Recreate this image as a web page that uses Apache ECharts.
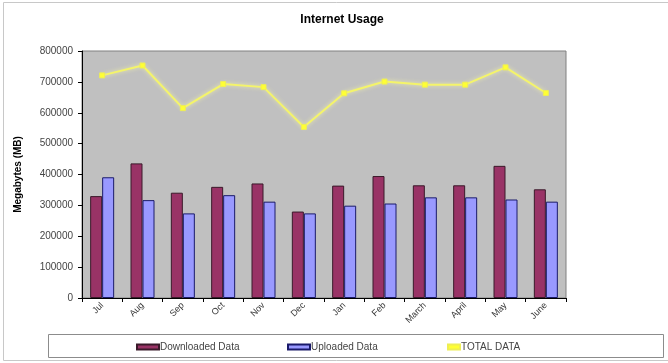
<!DOCTYPE html>
<html>
<head>
<meta charset="utf-8">
<script src="https://cdn.jsdelivr.net/npm/echarts@6/dist/echarts.min.js"></script>
<style>
  html, body { margin: 0; padding: 0; background: #ffffff; }
  #chart { width: 668px; height: 363px; }
</style>
</head>
<body>
<div id="chart"></div>
<script>
// Monthly internet usage in megabytes
const months = ['Jul', 'Aug', 'Sep', 'Oct', 'Nov', 'Dec', 'Jan', 'Feb', 'March', 'April', 'May', 'June'];
const downloaded = [330000, 436000, 341000, 360000, 371000, 280000, 364000, 395000, 365000, 365000, 428000, 352000];
const uploaded = [391000, 317000, 274000, 333000, 312000, 274000, 299000, 306000, 326000, 326000, 319000, 312000];
const totalData = [721000, 753000, 615000, 693000, 683000, 554000, 663000, 701000, 691000, 691000, 747000, 664000];
const yTicks = [0, 100000, 200000, 300000, 400000, 500000, 600000, 700000, 800000];

const font = 'Liberation Sans, Arial, sans-serif';
const chart = echarts.init(document.getElementById('chart'));

const legendBase = {
  top: 342,
  padding: 0,
  itemGap: 0,
  textStyle: { fontFamily: font, fontSize: 10, color: '#444', padding: [0, 0, 0, -4] }
};

chart.setOption({
  animation: false,
  backgroundColor: '#ffffff',
  title: {
    text: 'Internet Usage',
    left: 337,
    textAlign: 'center',
    top: 9,
    textStyle: { fontFamily: font, fontSize: 12, fontWeight: 'bold', color: '#000' }
  },
  graphic: [
    {
      type: 'rect', silent: true, z: -1,
      shape: { x: 3.5, y: 2.5, width: 700, height: 358 },
      style: { fill: 'none', stroke: '#c8c8c8', lineWidth: 1 }
    },
    {
      type: 'rect', silent: true, z: -1,
      shape: { x: 48.5, y: 334.5, width: 615, height: 23 },
      style: { fill: '#ffffff', stroke: '#8c8c8c', lineWidth: 1 }
    }
  ],
  legend: [
    Object.assign({}, legendBase, {
      left: 136, data: [{ name: 'Downloaded Data', icon: 'rect' }], itemWidth: 22, itemHeight: 5
    }),
    Object.assign({}, legendBase, {
      left: 287, data: [{ name: 'Uploaded Data', icon: 'rect' }], itemWidth: 22, itemHeight: 5
    }),
    Object.assign({}, legendBase, {
      left: 447, data: [{ name: 'TOTAL DATA', icon: 'rect' }], itemWidth: 12, itemHeight: 5
    })
  ],
  grid: {
    left: 82, right: 102, top: 51, bottom: 65,
    show: true, backgroundColor: '#c0c0c0', borderColor: '#808080', borderWidth: 1
  },
  xAxis: {
    type: 'category',
    data: months,
    boundaryGap: true,
    axisLine: { show: true, lineStyle: { color: '#000', width: 1 } },
    axisTick: { show: true, length: 4, inside: false, lineStyle: { color: '#000' } },
    axisLabel: { rotate: 45, fontFamily: font, fontSize: 9, color: '#333', margin: 6 }
  },
  yAxis: {
    type: 'value',
    min: yTicks[0],
    max: yTicks[yTicks.length - 1],
    interval: yTicks[1] - yTicks[0],
    name: 'Megabytes (MB)',
    nameLocation: 'middle',
    nameGap: 59,
    nameTextStyle: { fontFamily: font, fontSize: 10, fontWeight: 'bold', color: '#000' },
    axisLine: { show: true, lineStyle: { color: '#000', width: 1 } },
    axisTick: { show: true, length: 4, lineStyle: { color: '#000' } },
    axisLabel: { fontFamily: font, fontSize: 10, color: '#444', margin: 9, formatter: v => String(v) },
    splitLine: { show: false }
  },
  series: [
    {
      name: 'Downloaded Data',
      type: 'bar',
      data: downloaded,
      barWidth: 12,
      barGap: '0%',
      itemStyle: { color: '#993366', borderColor: '#3a1a2a', borderWidth: 1 }
    },
    {
      name: 'Uploaded Data',
      type: 'bar',
      data: uploaded,
      barWidth: 12,
      itemStyle: { color: '#9999ff', borderColor: '#1a1a6a', borderWidth: 1 }
    },
    {
      name: 'TOTAL DATA',
      type: 'line',
      data: totalData,
      symbol: 'rect',
      symbolSize: 5,
      lineStyle: { color: '#f4f46a', width: 2, shadowColor: 'rgba(255,255,160,0.8)', shadowBlur: 4 },
      itemStyle: { color: '#ffff33', borderColor: '#eeee55', borderWidth: 1 }
    }
  ]
});
</script>
</body>
</html>
